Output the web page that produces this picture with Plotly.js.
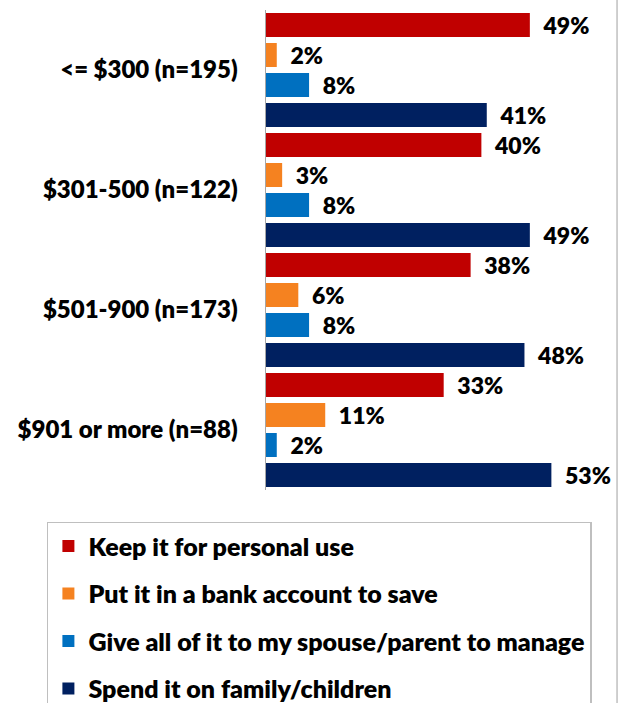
<!DOCTYPE html>
<html><head><meta charset="utf-8">
<script src="https://cdn.plot.ly/plotly-3.0.1.min.js"></script>
<style>html,body{margin:0;padding:0;background:#fff}</style>
</head><body>
<div id="chart" style="width:624px;height:703px"></div>
<script>
const categories = ["<= $300 (n=195)", "$301-500 (n=122)", "$501-900 (n=173)", "$901 or more (n=88)"];
const seriesNames = ["Keep it for personal use", "Put it in a bank account to save", "Give all of it to my spouse/parent to manage", "Spend it on family/children"];
const keepPersonal = [49, 40, 38, 33];
const bankSave = [2, 3, 6, 11];
const giveSpouse = [8, 8, 8, 2];
const spendFamily = [41, 49, 48, 53];
const colors = ["#C00000", "#F58220", "#0070C0", "#002060"];
const allValues = [keepPersonal, bankSave, giveSpouse, spendFamily];

const FONT = "Lato, 'Open Sans', sans-serif";
const W = 800;
const traces = allValues.map((vals, i) => ({
  type: "bar",
  orientation: "h",
  name: seriesNames[i],
  y: categories,
  x: vals,
  text: vals.map(v => "\u00a0\u00a0" + v + "%"),
  textposition: "outside",
  constraintext: "none",
  textfont: {family: FONT, size: 23, color: "#000", weight: W},
  cliponaxis: false,
  marker: {color: colors[i]},
  legendgroup: "g" + i,
  hoverinfo: "none"
}));

const layout = {
  width: 624, height: 703,
  margin: {l: 266, r: 8, t: 10, b: 213, autoexpand: false},
  paper_bgcolor: "#fff", plot_bgcolor: "#fff",
  barmode: "group", bargap: 0, bargroupgap: 0.2,
  font: {family: FONT, size: 24, color: "#000", weight: W},
  uniformtext: {mode: false},
  showlegend: true,
  legend: {
    x: -0.626, y: -0.066, xanchor: "left", yanchor: "top",
    bordercolor: "#BFBFBF", borderwidth: 1.5,
    font: {family: FONT, size: 25, color: "#000", weight: W},
    traceorder: "grouped", tracegroupgap: 12,
    itemclick: false
  },
  xaxis: {range: [0, 65], showgrid: false, zeroline: false, showticklabels: false, showline: false, fixedrange: true, automargin: false},
  yaxis: {autorange: "reversed", showgrid: false, zeroline: false, showline: true, linecolor: "#A6A6A6", linewidth: 1.5, automargin: false,
          ticks: "", ticklabelstandoff: 22, tickfont: {family: FONT, size: 24, color: "#000", weight: W}},
  shapes: [{type: "line", xref: "paper", yref: "paper", x0: 1.003, x1: 1.003, y0: -0.5, y1: 1.05, line: {color: "#BFBFBF", width: 1.5}}]
};

Plotly.newPlot("chart", traces, layout, {displayModeBar: false, staticPlot: true});
</script>
</body></html>
